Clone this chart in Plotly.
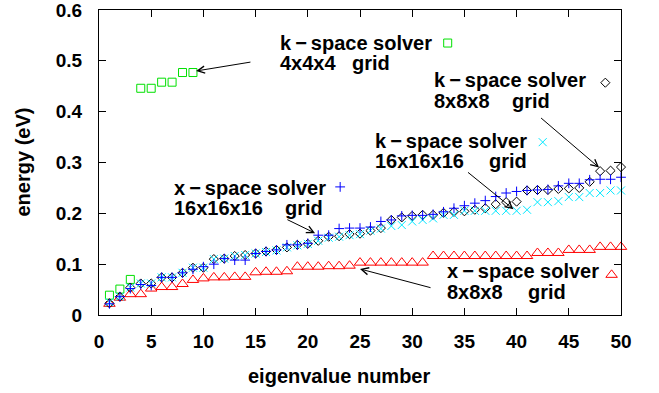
import plotly.graph_objects as go

# ---------------- data ----------------
eig_n = list(range(1, 51))
eig_k4 = list(range(1, 10))

k4_energy = [0.039, 0.051, 0.070, 0.446, 0.446, 0.458, 0.458, 0.477, 0.477]

x8_energy = [0.022, 0.034, 0.041, 0.041, 0.052, 0.055, 0.055, 0.061, 0.069, 0.072,
             0.074, 0.074, 0.075, 0.075, 0.084, 0.085, 0.085, 0.086, 0.095, 0.095,
             0.095, 0.096, 0.096, 0.097, 0.103, 0.103, 0.103, 0.103, 0.103, 0.103,
             0.103, 0.116, 0.116, 0.116, 0.116, 0.116, 0.116, 0.116, 0.116, 0.116,
             0.116, 0.122, 0.122, 0.122, 0.128, 0.128, 0.128, 0.134, 0.134, 0.134]

x16_energy = [0.022, 0.036, 0.052, 0.060, 0.058, 0.074, 0.074, 0.083, 0.090, 0.095,
              0.100, 0.111, 0.108, 0.108, 0.121, 0.125, 0.128, 0.138, 0.138, 0.141,
              0.157, 0.157, 0.170, 0.171, 0.171, 0.173, 0.184, 0.187, 0.195, 0.196,
              0.196, 0.198, 0.203, 0.210, 0.215, 0.220, 0.225, 0.233, 0.240, 0.243,
              0.245, 0.246, 0.247, 0.254, 0.259, 0.259, 0.266, 0.267, 0.267, 0.271]

k8_energy = [0.023, 0.036, 0.054, 0.062, 0.062, 0.074, 0.074, 0.083, 0.093, 0.093,
             0.110, 0.111, 0.116, 0.118, 0.121, 0.125, 0.128, 0.133, 0.138, 0.140,
             0.146, 0.154, 0.155, 0.159, 0.160, 0.166, 0.171, 0.187, 0.192, 0.195,
             0.197, 0.197, 0.201, 0.203, 0.204, 0.207, 0.210, 0.218, 0.222, 0.223,
             0.245, 0.246, 0.246, 0.248, 0.249, 0.250, 0.262, 0.283, 0.284, 0.291]

k16_energy = [0.025, 0.036, 0.054, 0.062, 0.062, 0.074, 0.074, 0.083, 0.093, 0.093,
              0.110, 0.111, 0.116, 0.118, 0.121, 0.124, 0.127, 0.133, 0.137, 0.140,
              0.146, 0.152, 0.154, 0.157, 0.159, 0.166, 0.170, 0.175, 0.177, 0.184,
              0.187, 0.190, 0.197, 0.197, 0.205, 0.205, 0.205, 0.205, 0.205, 0.205,
              0.207, 0.222, 0.222, 0.224, 0.232, 0.232, 0.240, 0.240, 0.245, 0.245]

x_ticks = [0, 5, 10, 15, 20, 25, 30, 35, 40, 45, 50]
y_ticks = [0, 0.1, 0.2, 0.3, 0.4, 0.5, 0.6]
y_tick_labels = ["0", "0.1", "0.2", "0.3", "0.4", "0.5", "0.6"]

# ---------------- styles ----------------
FONT = "Liberation Sans, Arial, Helvetica, sans-serif"
FS = 20
GREEN, RED, BLUE, CYAN, BLACK = "#00e000", "#ff0000", "#0000ff", "#00e8ff", "#000000"

series = [
    # name, x, y, symbol, size, color
    ("x-space 8x8x8", eig_n, x8_energy, "triangle-up-open", 10, RED),
    ("k-space 4x4x4", eig_k4, k4_energy, "square-open", 8, GREEN),
    ("k-space 8x8x8", eig_n, k8_energy, "diamond-open", 7, BLACK),
    ("k-space 16x16x16", eig_n, k16_energy, "x-thin-open", 8, CYAN),
    ("x-space 16x16x16", eig_n, x16_energy, "cross-thin-open", 7, BLUE),
]

KSP = "k\u2009−\u2009space solver"
XSP = "x\u2009−\u2009space solver"

labels = [
    dict(l1=KSP, l2a="4x4x4", l2b="grid", tx=17.15, ty1=0.535, ty2=0.496, gx=24.05,
         sx=33.4, sy=0.535, sidx=1, tip=(9.3, 0.48), tail=(14.65, 0.498)),
    dict(l1=KSP, l2a="8x8x8", l2b="grid", tx=31.9, ty1=0.4626, ty2=0.421, gx=39.37,
         sx=48.5, sy=0.457, sidx=2, tip=(47.9, 0.29), tail=(42.2, 0.39)),
    dict(l1=KSP, l2a="16x16x16", l2b="grid", tx=26.25, ty1=0.3425, ty2=0.303, gx=37.16,
         sx=42.5, sy=0.34, sidx=3, tip=(39.7, 0.208), tail=(35.2, 0.283)),
    dict(l1=XSP, l2a="16x16x16", l2b="grid", tx=6.99, ty1=0.25, ty2=0.2106, gx=17.6,
         sx=23.1, sy=0.252, sidx=4, tip=(20.7, 0.161), tail=(17.9, 0.189)),
    dict(l1=XSP, l2a="8x8x8", l2b="grid", tx=33.14, ty1=0.0866, ty2=0.0453, gx=40.9,
         sx=49.1, sy=0.079, sidx=0, tip=(25.0, 0.0906), tail=(31.9, 0.053)),
]

fig = go.Figure()
for name, xs, ys, sym, sz, col in series:
    fig.add_trace(go.Scatter(
        x=xs, y=ys, mode="markers", name=name, showlegend=False, cliponaxis=False,
        marker=dict(symbol=sym, size=sz, color=col, line=dict(color=col, width=1)),
    ))

annotations = []
tf = dict(family=FONT, size=FS, color="black", weight="bold")
for lab in labels:
    _, _, _, sym, sz, col = series[lab["sidx"]]
    fig.add_trace(go.Scatter(
        x=[lab["sx"]], y=[lab["sy"]], mode="markers", showlegend=False, hoverinfo="skip",
        cliponaxis=False,
        marker=dict(symbol=sym, size=sz, color=col, line=dict(color=col, width=1)),
    ))
    annotations.append(dict(x=lab["tx"], y=lab["ty1"], xref="x", yref="y", text=lab["l1"],
                            showarrow=False, xanchor="left", yanchor="middle", font=tf))
    annotations.append(dict(x=lab["tx"], y=lab["ty2"], xref="x", yref="y", text=lab["l2a"],
                            showarrow=False, xanchor="left", yanchor="middle", font=tf))
    annotations.append(dict(x=lab["gx"], y=lab["ty2"], xref="x", yref="y", text=lab["l2b"],
                            showarrow=False, xanchor="left", yanchor="middle", font=tf))
    annotations.append(dict(x=lab["tip"][0], y=lab["tip"][1], xref="x", yref="y",
                            ax=lab["tail"][0], ay=lab["tail"][1], axref="x", ayref="y",
                            text="", showarrow=True, arrowhead=5, arrowsize=1.4,
                            arrowwidth=1, arrowcolor="black"))

# axis titles
annotations.append(dict(x=-0.1475, y=0.5, xref="paper", yref="paper", text="energy (eV)",
                        textangle=-90, showarrow=False, xanchor="center", yanchor="middle",
                        font=tf))
annotations.append(dict(x=0.46, y=-0.2, xref="paper", yref="paper", text="eigenvalue number",
                        showarrow=False, xanchor="center", yanchor="middle", font=tf))

axis_common = dict(showline=True, linecolor="black", linewidth=1, mirror="ticks",
                   ticks="inside", ticklen=7, tickcolor="black", tickwidth=1,
                   showgrid=False, zeroline=False, automargin=False,
                   ticklabeloverflow="allow",
                   tickfont=dict(family=FONT, size=19, color="black", weight="bold"))

fig.update_layout(
    width=659, height=393,
    margin=dict(l=99, r=38, t=10, b=78),
    paper_bgcolor="white", plot_bgcolor="white",
    xaxis=dict(range=[0, 50], tickvals=x_ticks, ticktext=[str(v) for v in x_ticks],
               ticklabelstandoff=9, **axis_common),
    yaxis=dict(range=[0, 0.6], tickvals=y_ticks, ticktext=y_tick_labels,
               ticklabelstandoff=12, **axis_common),
    annotations=annotations,
    showlegend=False,
)

fig.write_html("out.html", config={"displayModeBar": False},
               post_script="document.body.style.margin='0';")
